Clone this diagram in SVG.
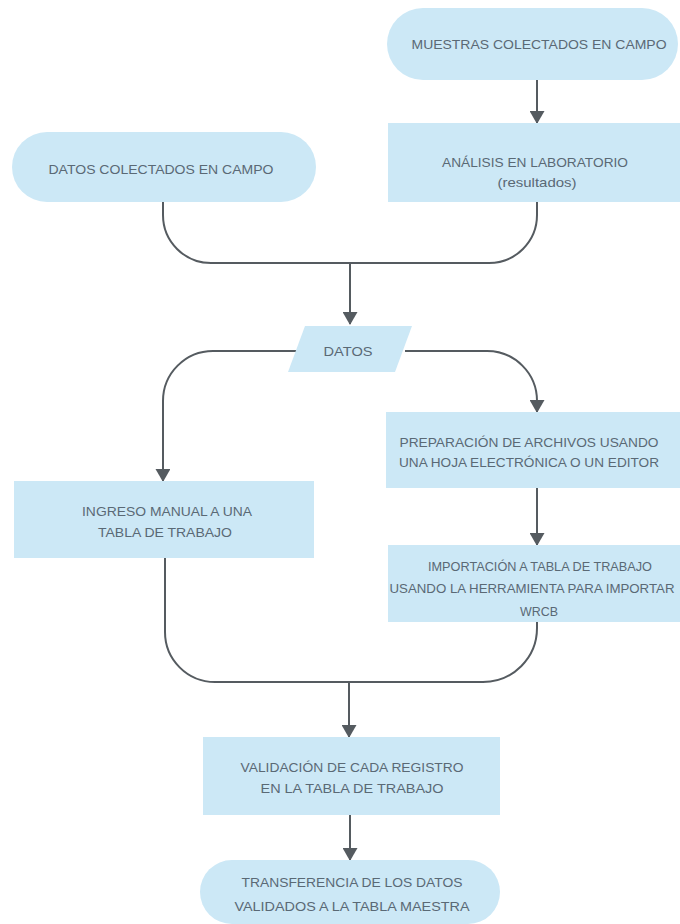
<svg xmlns="http://www.w3.org/2000/svg" width="680" height="924" viewBox="0 0 680 924">
<style>
.box{fill:#cce8f6;}
.t{font-family:"Liberation Sans Narrow","Liberation Sans",Arial,sans-serif;font-size:13px;fill:#5a6975;text-anchor:middle;}
.c{fill:none;stroke:#555b60;stroke-width:2;}
</style>
<defs>
<marker id="ah" markerUnits="userSpaceOnUse" markerWidth="13" markerHeight="15" refX="12" refY="7.5" orient="auto" viewBox="0 0 13 15">
<path d="M0,0 L13,7.5 L0,15 z" fill="#555b60"/>
</marker>
</defs>
<rect width="680" height="924" fill="#ffffff"/>
<g id="connectors">
<path class="c" d="M537,80 V123" marker-end="url(#ah)"/>
<path class="c" d="M163,202 V215 A48,48 0 0 0 211,263 H489 A48,48 0 0 0 537,215 V202"/>
<path class="c" d="M350,263 V324" marker-end="url(#ah)"/>
<path class="c" d="M300,351 H213 A50,50 0 0 0 163,401 V481" marker-end="url(#ah)"/>
<path class="c" d="M405,351 H487 A50,50 0 0 1 537,401 V412" marker-end="url(#ah)"/>
<path class="c" d="M537,488 V545" marker-end="url(#ah)"/>
<path class="c" d="M165,558 V632 A50,50 0 0 0 215,682 H483 A54,54 0 0 0 537,628 V622"/>
<path class="c" d="M349,682 V737" marker-end="url(#ah)"/>
<path class="c" d="M350,815 V860" marker-end="url(#ah)"/>
</g>
<g id="muestras">
<rect class="box" x="387" y="8" width="291" height="72" rx="36"/>
<text class="t" x="539" y="49" textLength="255" lengthAdjust="spacingAndGlyphs">MUESTRAS COLECTADOS EN CAMPO</text>
</g>
<g id="analisis">
<rect class="box" x="388" y="123" width="292" height="79"/>
<text class="t" x="535" y="167" textLength="186" lengthAdjust="spacingAndGlyphs">ANÁLISIS EN LABORATORIO</text>
<text class="t" x="537" y="187" textLength="79" lengthAdjust="spacingAndGlyphs">(resultados)</text>
</g>
<g id="datos-campo">
<rect class="box" x="12" y="132" width="304" height="70" rx="35"/>
<text class="t" x="161" y="174" textLength="225" lengthAdjust="spacingAndGlyphs">DATOS COLECTADOS EN CAMPO</text>
</g>
<g id="datos">
<polygon class="box" points="305,326 412,326 395,372 288,372"/>
<text class="t" x="348" y="356" textLength="49" lengthAdjust="spacingAndGlyphs">DATOS</text>
</g>
<g id="preparacion">
<rect class="box" x="386" y="412" width="294" height="76"/>
<text class="t" x="529" y="447" textLength="259" lengthAdjust="spacingAndGlyphs">PREPARACIÓN DE ARCHIVOS USANDO</text>
<text class="t" x="529" y="467" textLength="260" lengthAdjust="spacingAndGlyphs">UNA HOJA ELECTRÓNICA O UN EDITOR</text>
</g>
<g id="ingreso">
<rect class="box" x="14" y="481" width="300" height="77"/>
<text class="t" x="167" y="516" textLength="170" lengthAdjust="spacingAndGlyphs">INGRESO MANUAL A UNA</text>
<text class="t" x="165" y="537" textLength="134" lengthAdjust="spacingAndGlyphs">TABLA DE TRABAJO</text>
</g>
<g id="importacion">
<rect class="box" x="388" y="545" width="292" height="77"/>
<text class="t" x="540" y="571" textLength="224" lengthAdjust="spacingAndGlyphs">IMPORTACIÓN A TABLA DE TRABAJO</text>
<text class="t" x="532" y="593" textLength="285" lengthAdjust="spacingAndGlyphs">USANDO LA HERRAMIENTA PARA IMPORTAR</text>
<text class="t" x="539" y="616" textLength="38" lengthAdjust="spacingAndGlyphs">WRCB</text>
</g>
<g id="validacion">
<rect class="box" x="203" y="737" width="297" height="78"/>
<text class="t" x="352" y="772" textLength="223" lengthAdjust="spacingAndGlyphs">VALIDACIÓN DE CADA REGISTRO</text>
<text class="t" x="352" y="793" textLength="183" lengthAdjust="spacingAndGlyphs">EN LA TABLA DE TRABAJO</text>
</g>
<g id="transferencia">
<rect class="box" x="200" y="860" width="300" height="64" rx="32"/>
<text class="t" x="352" y="887" textLength="221" lengthAdjust="spacingAndGlyphs">TRANSFERENCIA DE LOS DATOS</text>
<text class="t" x="352" y="911" textLength="235" lengthAdjust="spacingAndGlyphs">VALIDADOS A LA TABLA MAESTRA</text>
</g>
</svg>
